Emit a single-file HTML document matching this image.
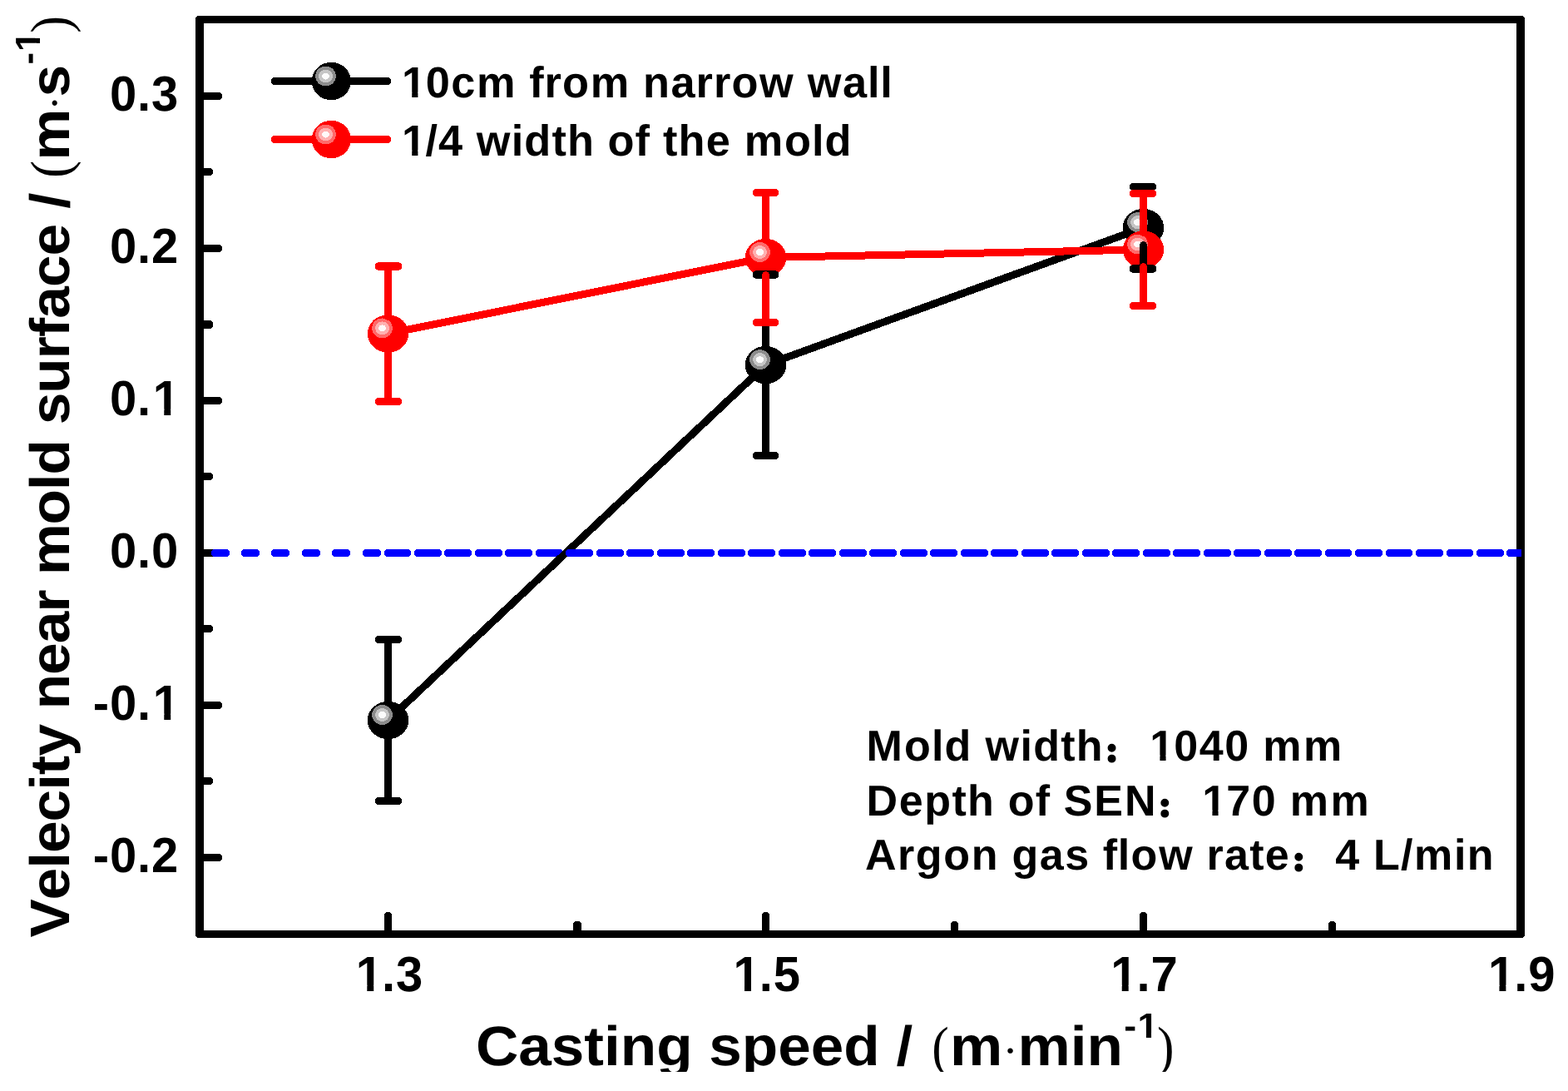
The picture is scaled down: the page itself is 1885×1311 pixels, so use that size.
<!DOCTYPE html>
<html lang="en"><head><meta charset="utf-8"><title>Velocity near mold surface vs casting speed</title>
<style>
html,body{margin:0;padding:0;background:#fff;}
body{width:1885px;height:1311px;overflow:hidden;}
svg{display:block;}
text{font-family:"Liberation Sans", "Noto Sans CJK SC", sans-serif;font-weight:bold;fill:#000;white-space:pre;text-rendering:geometricPrecision;}
.m{fill:#fff;}
.par{font-family:"Liberation Serif","Noto Serif CJK SC",serif;font-weight:normal;}
.col{stroke:#000;stroke-linejoin:round;}
</style></head><body>
<svg width="1885" height="1311" viewBox="0 0 1885 1311">
<rect width="1885" height="1311" fill="#fff"/>
<g id="plot" shape-rendering="crispEdges">
<clipPath id="cpz"><rect x="0" y="650" width="1829" height="30"/></clipPath>
<g id="frame" fill="#000">
<path fill-rule="evenodd" d="M237 19H1831V20H1832V21H1833V1125H1832V1126H1831V1127H237V1126H236V1125H235V21H236V20H237Z M245 28V1118H1823V28Z"/>
<rect x="240" y="111" width="27" height="9" rx="4" ry="4"/>
<rect x="240" y="294" width="27" height="9" rx="4" ry="4"/>
<rect x="240" y="477" width="27" height="9" rx="4" ry="4"/>
<rect x="240" y="660" width="27" height="9" rx="4" ry="4"/>
<rect x="240" y="843" width="27" height="9" rx="4" ry="4"/>
<rect x="240" y="1026" width="27" height="9" rx="4" ry="4"/>
<rect x="240" y="202" width="16" height="9" rx="4" ry="4"/>
<rect x="240" y="385" width="16" height="10" rx="4" ry="4"/>
<rect x="240" y="568" width="16" height="9" rx="4" ry="4"/>
<rect x="240" y="751" width="16" height="9" rx="4" ry="4"/>
<rect x="240" y="934" width="16" height="9" rx="4" ry="4"/>
<rect x="462" y="1096" width="9" height="27" rx="4" ry="4"/>
<rect x="916" y="1096" width="9" height="27" rx="4" ry="4"/>
<rect x="1370" y="1096" width="9" height="27" rx="4" ry="4"/>
<rect x="689" y="1107" width="10" height="16" rx="4" ry="4"/>
<rect x="1143" y="1107" width="9" height="16" rx="4" ry="4"/>
<rect x="1597" y="1107" width="9" height="16" rx="4" ry="4"/>
</g>
<g id="zeroline" fill="#0000ff" clip-path="url(#cpz)">
<path d="M256 660H274V661H275V662H276V667H275V668H274V669H256V668H255V667H254V662H255V661H256Z"/><path d="M292 660H310V661H311V662H312V667H311V668H310V669H292V668H291V667H290V662H291V661H292Z"/><path d="M328 660H346V661H347V662H348V667H347V668H346V669H328V668H327V667H326V662H327V661H328Z"/><path d="M365 660H383V661H384V662H385V667H384V668H383V669H365V668H364V667H363V662H364V661H365Z"/><path d="M401 660H419V661H420V662H421V667H420V668H419V669H401V668H400V667H399V662H400V661H401Z"/><path d="M438 660H456V661H457V662H458V667H457V668H456V669H438V668H437V667H436V662H437V661H438Z"/><path d="M474 660H492V661H493V662H494V667H493V668H492V669H474V668H473V667H472V662H473V661H474Z"/><path d="M511 660H529V661H530V662H531V667H530V668H529V669H511V668H510V667H509V662H510V661H511Z"/><path d="M547 660H565V661H566V662H567V667H566V668H565V669H547V668H546V667H545V662H546V661H547Z"/><path d="M584 660H602V661H603V662H604V667H603V668H602V669H584V668H583V667H582V662H583V661H584Z"/><path d="M620 660H638V661H639V662H640V667H639V668H638V669H620V668H619V667H618V662H619V661H620Z"/><path d="M657 660H675V661H676V662H677V667H676V668H675V669H657V668H656V667H655V662H656V661H657Z"/><path d="M693 660H711V661H712V662H713V667H712V668H711V669H693V668H692V667H691V662H692V661H693Z"/><path d="M730 660H748V661H749V662H750V667H749V668H748V669H730V668H729V667H728V662H729V661H730Z"/><path d="M766 660H784V661H785V662H786V667H785V668H784V669H766V668H765V667H764V662H765V661H766Z"/><path d="M803 660H821V661H822V662H823V667H822V668H821V669H803V668H802V667H801V662H802V661H803Z"/><path d="M839 660H857V661H858V662H859V667H858V668H857V669H839V668H838V667H837V662H838V661H839Z"/><path d="M876 660H894V661H895V662H896V667H895V668H894V669H876V668H875V667H874V662H875V661H876Z"/><path d="M912 660H930V661H931V662H932V667H931V668H930V669H912V668H911V667H910V662H911V661H912Z"/><path d="M949 660H967V661H968V662H969V667H968V668H967V669H949V668H948V667H947V662H948V661H949Z"/><path d="M985 660H1003V661H1004V662H1005V667H1004V668H1003V669H985V668H984V667H983V662H984V661H985Z"/><path d="M1022 660H1040V661H1041V662H1042V667H1041V668H1040V669H1022V668H1021V667H1020V662H1021V661H1022Z"/><path d="M1058 660H1076V661H1077V662H1078V667H1077V668H1076V669H1058V668H1057V667H1056V662H1057V661H1058Z"/><path d="M1095 660H1113V661H1114V662H1115V667H1114V668H1113V669H1095V668H1094V667H1093V662H1094V661H1095Z"/><path d="M1131 660H1149V661H1150V662H1151V667H1150V668H1149V669H1131V668H1130V667H1129V662H1130V661H1131Z"/><path d="M1168 660H1186V661H1187V662H1188V667H1187V668H1186V669H1168V668H1167V667H1166V662H1167V661H1168Z"/><path d="M1204 660H1222V661H1223V662H1224V667H1223V668H1222V669H1204V668H1203V667H1202V662H1203V661H1204Z"/><path d="M1241 660H1259V661H1260V662H1261V667H1260V668H1259V669H1241V668H1240V667H1239V662H1240V661H1241Z"/><path d="M1277 660H1295V661H1296V662H1297V667H1296V668H1295V669H1277V668H1276V667H1275V662H1276V661H1277Z"/><path d="M1314 660H1332V661H1333V662H1334V667H1333V668H1332V669H1314V668H1313V667H1312V662H1313V661H1314Z"/><path d="M1350 660H1368V661H1369V662H1370V667H1369V668H1368V669H1350V668H1349V667H1348V662H1349V661H1350Z"/><path d="M1387 660H1405V661H1406V662H1407V667H1406V668H1405V669H1387V668H1386V667H1385V662H1386V661H1387Z"/><path d="M1423 660H1441V661H1442V662H1443V667H1442V668H1441V669H1423V668H1422V667H1421V662H1422V661H1423Z"/><path d="M1460 660H1478V661H1479V662H1480V667H1479V668H1478V669H1460V668H1459V667H1458V662H1459V661H1460Z"/><path d="M1496 660H1514V661H1515V662H1516V667H1515V668H1514V669H1496V668H1495V667H1494V662H1495V661H1496Z"/><path d="M1533 660H1551V661H1552V662H1553V667H1552V668H1551V669H1533V668H1532V667H1531V662H1532V661H1533Z"/><path d="M1569 660H1587V661H1588V662H1589V667H1588V668H1587V669H1569V668H1568V667H1567V662H1568V661H1569Z"/><path d="M1605 660H1623V661H1624V662H1625V667H1624V668H1623V669H1605V668H1604V667H1603V662H1604V661H1605Z"/><path d="M1642 660H1660V661H1661V662H1662V667H1661V668H1660V669H1642V668H1641V667H1640V662H1641V661H1642Z"/><path d="M1678 660H1696V661H1697V662H1698V667H1697V668H1696V669H1678V668H1677V667H1676V662H1677V661H1678Z"/><path d="M1715 660H1733V661H1734V662H1735V667H1734V668H1733V669H1715V668H1714V667H1713V662H1714V661H1715Z"/><path d="M1751 660H1769V661H1770V662H1771V667H1770V668H1769V669H1751V668H1750V667H1749V662H1750V661H1751Z"/><path d="M1788 660H1806V661H1807V662H1808V667H1807V668H1806V669H1788V668H1787V667H1786V662H1787V661H1788Z"/><path d="M1824 660H1842V661H1843V662H1844V667H1843V668H1842V669H1824V668H1823V667H1822V662H1823V661H1824Z"/>
</g>
<g id="series-black"><polyline points="466.5,865.5 920.5,438.6 1374.5,273.6" fill="none" stroke="#000" stroke-width="9" stroke-linejoin="round" stroke-linecap="round"/><ellipse cx="466.50" cy="865.50" rx="24.70" ry="22.70" fill="#000"/><ellipse cx="459.55" cy="859.00" rx="12.35" ry="11.95" fill="#8c8c8c"/><ellipse cx="459.55" cy="859.00" rx="8.45" ry="8" fill="#c6c6c6"/><ellipse cx="459.55" cy="859.00" rx="4.55" ry="4" fill="#fcfcfc"/><ellipse cx="920.50" cy="438.60" rx="24.70" ry="22.70" fill="#000"/><ellipse cx="913.55" cy="432.10" rx="12.35" ry="11.95" fill="#8c8c8c"/><ellipse cx="913.55" cy="432.10" rx="8.45" ry="8" fill="#c6c6c6"/><ellipse cx="913.55" cy="432.10" rx="4.55" ry="4" fill="#fcfcfc"/><ellipse cx="1374.50" cy="273.60" rx="24.70" ry="22.70" fill="#000"/><ellipse cx="1367.55" cy="267.10" rx="12.35" ry="11.95" fill="#8c8c8c"/><ellipse cx="1367.55" cy="267.10" rx="8.45" ry="8" fill="#c6c6c6"/><ellipse cx="1367.55" cy="267.10" rx="4.55" ry="4" fill="#fcfcfc"/></g>
<g id="series-red"><polyline points="466.5,400.9 920.5,309.5 1374.5,300.0" fill="none" stroke="#ff0000" stroke-width="9" stroke-linejoin="round" stroke-linecap="round"/><ellipse cx="466.50" cy="400.90" rx="24.70" ry="22.70" fill="#ff0000"/><ellipse cx="459.55" cy="394.40" rx="12.35" ry="11.95" fill="#ff6a6a"/><ellipse cx="459.55" cy="394.40" rx="8.45" ry="8" fill="#ffb0b0"/><ellipse cx="459.55" cy="394.40" rx="4.55" ry="4" fill="#fffafa"/><ellipse cx="920.50" cy="309.50" rx="24.70" ry="22.70" fill="#ff0000"/><ellipse cx="913.55" cy="303.00" rx="12.35" ry="11.95" fill="#ff6a6a"/><ellipse cx="913.55" cy="303.00" rx="8.45" ry="8" fill="#ffb0b0"/><ellipse cx="913.55" cy="303.00" rx="4.55" ry="4" fill="#fffafa"/><ellipse cx="1374.50" cy="300.00" rx="24.70" ry="22.70" fill="#ff0000"/><ellipse cx="1367.55" cy="293.50" rx="12.35" ry="11.95" fill="#ff6a6a"/><ellipse cx="1367.55" cy="293.50" rx="8.45" ry="8" fill="#ffb0b0"/><ellipse cx="1367.55" cy="293.50" rx="4.55" ry="4" fill="#fffafa"/></g>
<g id="err-black"><g fill="#000"><path d="M462 768L471 768L471 846L470 846L470 848L468 848L468 849L465 849L465 848L463 848L463 846L462 846Z"/><path d="M462 885L463 885L463 883L465 883L465 882L468 882L468 883L470 883L470 885L471 885L471 962L462 962Z"/><path d="M453 764H481V765H482V766H483V771H482V772H481V773H453V772H452V771H451V766H452V765H453Z"/><path d="M453 958H481V959H482V960H483V965H482V966H481V967H453V966H452V965H451V960H452V959H453Z"/><path d="M916 330L925 330L925 419L924 419L924 421L922 421L922 422L919 422L919 421L917 421L917 419L916 419Z"/><path d="M916 458L917 458L917 456L919 456L919 455L922 455L922 456L924 456L924 458L925 458L925 548L916 548Z"/><path d="M908 325H933V326H935V327H936V333H935V334H933V335H908V334H906V333H905V327H906V326H908Z"/><path d="M907 543H934V544H935V545H936V550H935V551H934V552H907V551H906V550H905V545H906V544H907Z"/><path d="M1370 224L1379 224L1379 254L1378 254L1378 256L1376 256L1376 257L1373 257L1373 256L1371 256L1371 254L1370 254Z"/><path d="M1370 293L1371 293L1371 291L1373 291L1373 290L1376 290L1376 291L1378 291L1378 293L1379 293L1379 323L1370 323Z"/><path d="M1360 220H1388V221H1389V222H1390V227H1389V228H1388V229H1360V228H1359V227H1358V222H1359V221H1360Z"/><path d="M1361 318H1387V319H1389V320H1390V326H1389V327H1387V328H1361V327H1359V326H1358V320H1359V319H1361Z"/></g></g>
<g id="err-red"><g fill="#ff0000"><path d="M462 320L471 320L471 382L470 382L470 384L468 384L468 385L465 385L465 384L463 384L463 382L462 382Z"/><path d="M462 420L463 420L463 418L465 418L465 417L468 417L468 418L470 418L470 420L471 420L471 482L462 482Z"/><path d="M454 315H480V316H482V317H483V323H482V324H480V325H454V324H452V323H451V317H452V316H454Z"/><path d="M453 478H481V479H482V480H483V485H482V486H481V487H453V486H452V485H451V480H452V479H453Z"/><path d="M916 232L925 232L925 290L924 290L924 292L922 292L922 293L919 293L919 292L917 292L917 290L916 290Z"/><path d="M916 329L917 329L917 327L919 327L919 326L922 326L922 327L924 327L924 329L925 329L925 388L916 388Z"/><path d="M907 227H934V228H935V229H936V234H935V235H934V236H907V235H906V234H905V229H906V228H907Z"/><path d="M907 383H934V384H935V385H936V390H935V391H934V392H907V391H906V390H905V385H906V384H907Z"/><path d="M1370 233L1379 233L1379 281L1378 281L1378 283L1376 283L1376 284L1373 284L1373 283L1371 283L1371 281L1370 281Z"/><path d="M1370 319L1371 319L1371 317L1373 317L1373 316L1376 316L1376 317L1378 317L1378 319L1379 319L1379 368L1370 368Z"/><path d="M1360 228H1388V229H1389V230H1390V235H1389V236H1388V237H1360V236H1359V235H1358V230H1359V229H1360Z"/><path d="M1360 363H1388V364H1389V365H1390V370H1389V371H1388V372H1360V371H1359V370H1358V365H1359V364H1360Z"/></g></g>
<g id="zeroline2" fill="#0000ff" clip-path="url(#cpz)">
<path d="M464 660H482V661H483V662H484V667H483V668H482V669H464V668H463V667H462V662H463V661H464Z"/><path d="M500 660H518V661H519V662H520V667H519V668H518V669H500V668H499V667H498V662H499V661H500Z"/><path d="M536 660H554V661H555V662H556V667H555V668H554V669H536V668H535V667H534V662H535V661H536Z"/><path d="M573 660H591V661H592V662H593V667H592V668H591V669H573V668H572V667H571V662H572V661H573Z"/><path d="M609 660H627V661H628V662H629V667H628V668H627V669H609V668H608V667H607V662H608V661H609Z"/><path d="M646 660H664V661H665V662H666V667H665V668H664V669H646V668H645V667H644V662H645V661H646Z"/><path d="M682 660H700V661H701V662H702V667H701V668H700V669H682V668H681V667H680V662H681V661H682Z"/><path d="M719 660H737V661H738V662H739V667H738V668H737V669H719V668H718V667H717V662H718V661H719Z"/><path d="M755 660H773V661H774V662H775V667H774V668H773V669H755V668H754V667H753V662H754V661H755Z"/><path d="M792 660H810V661H811V662H812V667H811V668H810V669H792V668H791V667H790V662H791V661H792Z"/><path d="M828 660H846V661H847V662H848V667H847V668H846V669H828V668H827V667H826V662H827V661H828Z"/><path d="M865 660H883V661H884V662H885V667H884V668H883V669H865V668H864V667H863V662H864V661H865Z"/><path d="M901 660H919V661H920V662H921V667H920V668H919V669H901V668H900V667H899V662H900V661H901Z"/><path d="M938 660H956V661H957V662H958V667H957V668H956V669H938V668H937V667H936V662H937V661H938Z"/><path d="M974 660H992V661H993V662H994V667H993V668H992V669H974V668H973V667H972V662H973V661H974Z"/><path d="M1011 660H1029V661H1030V662H1031V667H1030V668H1029V669H1011V668H1010V667H1009V662H1010V661H1011Z"/><path d="M1047 660H1065V661H1066V662H1067V667H1066V668H1065V669H1047V668H1046V667H1045V662H1046V661H1047Z"/><path d="M1084 660H1102V661H1103V662H1104V667H1103V668H1102V669H1084V668H1083V667H1082V662H1083V661H1084Z"/><path d="M1120 660H1138V661H1139V662H1140V667H1139V668H1138V669H1120V668H1119V667H1118V662H1119V661H1120Z"/><path d="M1157 660H1175V661H1176V662H1177V667H1176V668H1175V669H1157V668H1156V667H1155V662H1156V661H1157Z"/><path d="M1193 660H1211V661H1212V662H1213V667H1212V668H1211V669H1193V668H1192V667H1191V662H1192V661H1193Z"/><path d="M1230 660H1248V661H1249V662H1250V667H1249V668H1248V669H1230V668H1229V667H1228V662H1229V661H1230Z"/><path d="M1266 660H1284V661H1285V662H1286V667H1285V668H1284V669H1266V668H1265V667H1264V662H1265V661H1266Z"/><path d="M1303 660H1321V661H1322V662H1323V667H1322V668H1321V669H1303V668H1302V667H1301V662H1302V661H1303Z"/><path d="M1339 660H1357V661H1358V662H1359V667H1358V668H1357V669H1339V668H1338V667H1337V662H1338V661H1339Z"/><path d="M1376 660H1394V661H1395V662H1396V667H1395V668H1394V669H1376V668H1375V667H1374V662H1375V661H1376Z"/><path d="M1412 660H1430V661H1431V662H1432V667H1431V668H1430V669H1412V668H1411V667H1410V662H1411V661H1412Z"/><path d="M1449 660H1467V661H1468V662H1469V667H1468V668H1467V669H1449V668H1448V667H1447V662H1448V661H1449Z"/><path d="M1485 660H1503V661H1504V662H1505V667H1504V668H1503V669H1485V668H1484V667H1483V662H1484V661H1485Z"/><path d="M1522 660H1540V661H1541V662H1542V667H1541V668H1540V669H1522V668H1521V667H1520V662H1521V661H1522Z"/><path d="M1558 660H1576V661H1577V662H1578V667H1577V668H1576V669H1558V668H1557V667H1556V662H1557V661H1558Z"/><path d="M1595 660H1613V661H1614V662H1615V667H1614V668H1613V669H1595V668H1594V667H1593V662H1594V661H1595Z"/><path d="M1631 660H1649V661H1650V662H1651V667H1650V668H1649V669H1631V668H1630V667H1629V662H1630V661H1631Z"/><path d="M1668 660H1686V661H1687V662H1688V667H1687V668H1686V669H1668V668H1667V667H1666V662H1667V661H1668Z"/><path d="M1704 660H1722V661H1723V662H1724V667H1723V668H1722V669H1704V668H1703V667H1702V662H1703V661H1704Z"/><path d="M1741 660H1759V661H1760V662H1761V667H1760V668H1759V669H1741V668H1740V667H1739V662H1740V661H1741Z"/><path d="M1777 660H1795V661H1796V662H1797V667H1796V668H1795V669H1777V668H1776V667H1775V662H1776V661H1777Z"/><path d="M1813 660H1831V661H1832V662H1833V667H1832V668H1831V669H1813V668H1812V667H1811V662H1812V661H1813Z"/>
</g>
<path d="M328 93H468V94H469V95H470V100H469V101H468V102H328V101H327V100H326V95H327V94H328Z" fill="#000"/>
<ellipse cx="398.35" cy="97.50" rx="23.55" ry="22.75" fill="#000"/><ellipse cx="391.50" cy="91.50" rx="12.35" ry="11.95" fill="#8c8c8c"/><ellipse cx="391.50" cy="91.50" rx="8.45" ry="8" fill="#c6c6c6"/><ellipse cx="391.50" cy="91.50" rx="4.55" ry="4" fill="#fcfcfc"/>
<path d="M328 163H468V164H469V165H470V170H469V171H468V172H328V171H327V170H326V165H327V164H328Z" fill="#ff0000"/>
<ellipse cx="398.35" cy="167.50" rx="23.55" ry="22.75" fill="#ff0000"/><ellipse cx="391.50" cy="161.50" rx="12.35" ry="11.95" fill="#ff6a6a"/><ellipse cx="391.50" cy="161.50" rx="8.45" ry="8" fill="#ffb0b0"/><ellipse cx="391.50" cy="161.50" rx="4.55" ry="4" fill="#fffafa"/>
</g>
<g id="labels">
<g transform="translate(214.80 132.80) scale(0.9750 1)"><text font-size="59.50" x="-84.98 -51.04 -33.66">0.3</text></g>
<g transform="translate(214.80 315.80) scale(0.9750 1)"><text font-size="59.50" x="-84.98 -51.04 -33.66">0.2</text></g>
<g transform="translate(214.80 498.80) scale(0.9750 1)"><text font-size="59.50" x="-84.98 -51.04 -31.87">0.1</text><rect class="m" x="-29.49" y="-7.27" width="11.51" height="8.27"/><rect class="m" x="-9.82" y="-7.27" width="10.71" height="8.27"/></g>
<g transform="translate(214.80 681.80) scale(0.9750 1)"><text font-size="59.50" x="-84.98 -51.04 -33.66">0.0</text></g>
<g transform="translate(214.80 864.80) scale(0.9750 1)"><text font-size="59.50" x="-105.7 -84.98 -51.04 -31.87">-0.1</text><rect class="m" x="-29.49" y="-7.27" width="11.51" height="8.27"/><rect class="m" x="-9.82" y="-7.27" width="10.71" height="8.27"/></g>
<g transform="translate(214.80 1047.80) scale(0.9750 1)"><text font-size="59.50" x="-105.7 -84.98 -51.04 -33.66">-0.2</text></g>
<g transform="translate(467.16 1191.00) scale(0.9750 1)"><text font-size="59.50" x="-40.42 -8.27 9.12">1.3</text><rect class="m" x="-38.04" y="-7.27" width="11.51" height="8.27"/><rect class="m" x="-18.37" y="-7.27" width="10.71" height="8.27"/></g>
<g transform="translate(920.87 1191.00) scale(0.9750 1)"><text font-size="59.50" x="-40.42 -8.27 9.12">1.5</text><rect class="m" x="-38.04" y="-7.27" width="11.51" height="8.27"/><rect class="m" x="-18.37" y="-7.27" width="10.71" height="8.27"/></g>
<g transform="translate(1374.59 1191.00) scale(0.9750 1)"><text font-size="59.50" x="-40.42 -8.27 9.12">1.7</text><rect class="m" x="-38.04" y="-7.27" width="11.51" height="8.27"/><rect class="m" x="-18.37" y="-7.27" width="10.71" height="8.27"/></g>
<g transform="translate(1828.30 1191.00) scale(0.9750 1)"><text font-size="59.50" x="-40.42 -8.27 9.12">1.9</text><rect class="m" x="-38.04" y="-7.27" width="11.51" height="8.27"/><rect class="m" x="-18.37" y="-7.27" width="10.71" height="8.27"/></g>
<g transform="translate(480.80 117.30)"><text font-size="52.30" x="2.22 31.05 61.44 92.23 140.1 155.35 173.61 195.14 228.85 276.73 292.3 325.62 355.82 377.08 398.61 432.19 474.11 489.88 532.13 562.2 577.38">10cm from narrow wall</text><rect class="m" x="4.31" y="-6.54" width="10.11" height="7.54"/><rect class="m" x="21.60" y="-6.54" width="9.41" height="7.54"/></g>
<g transform="translate(480.80 186.90)"><text font-size="52.30" x="2.22 30.72 46.23 76.3 92.07 133.99 149.56 182.62 201.15 234.14 249.71 282.77 300.9 316.15 334.68 367.99 398.06 413.96 462.23 495.22 510.79">1/4 width of the mold</text><rect class="m" x="4.31" y="-6.54" width="10.11" height="7.54"/><rect class="m" x="21.60" y="-6.54" width="9.41" height="7.54"/></g>
<g transform="translate(1040.40 914.00)"><text font-size="52.00"><tspan x="1.17 46.5 79.51 95.2 128.21 144.14 186.06 201.75 234.84 253.48">Mold width</tspan><tspan x="289.43" font-size="27.20" class="col" stroke-width="4.80">：</tspan><tspan x="341.88 370.8 401.28 431.76 461.84 477.92 526.65">1040 mm</tspan></text><rect class="m" x="343.96" y="-6.51" width="10.06" height="7.51"/><rect class="m" x="361.16" y="-6.51" width="9.36" height="7.51"/></g>
<g transform="translate(1040.40 980.00)"><text font-size="52.00"><tspan x="1.01 40.35 70.91 103.99 122.63 155.64 171.33 204.41 222.59 238.36 274.91 311.54">Depth of SEN</tspan><tspan x="353.23" font-size="27.20" class="col" stroke-width="4.80">：</tspan><tspan x="404.88 433.8 464.28 494.37 510.45 559.17">170 mm</tspan></text><rect class="m" x="406.96" y="-6.51" width="10.06" height="7.51"/><rect class="m" x="424.16" y="-6.51" width="9.36" height="7.51"/></g>
<g transform="translate(1039.00 1044.60)"><text font-size="52.00"><tspan x="1.01 40.12 61.76 95.23 128.7 161.71 177.4 210.8 241.28 271.37 286.67 304.84 320.53 354.24 396.16 411.54 433.1 463.27 481.83">Argon gas flow rate</tspan><tspan x="515.43" font-size="27.20" class="col" stroke-width="4.80">：</tspan><tspan x="566.21 596.3 611.99 645 661.08 708.95 724.64">4 L/min</tspan></text></g>
<clipPath id="cpx"><rect x="0" y="1200" width="1885" height="88"/></clipPath>
<g clip-path="url(#cpx)">
<g transform="translate(572.00 1279.80) scale(1.0640 1)"><text font-size="66.80"><tspan x="-0 48.24 85.38 122.53 144.78 163.33 204.13 244.94 263.49 300.64 341.44 378.59 415.74 456.54 475.1 493.66">Casting speed / </tspan><tspan x="515.22" class="par" textLength="19.24" lengthAdjust="spacingAndGlyphs">(</tspan><tspan x="535.73">m</tspan><tspan x="595.13" font-size="52.30" class="par">·</tspan><tspan x="612.33 671.72 690.28">min</tspan><tspan x="732.38 747.63" dy="-33.10" font-size="42.00">-1</tspan><tspan x="769.66" dy="33.10" class="par" textLength="19.24" lengthAdjust="spacingAndGlyphs">)</tspan></text><rect class="m" x="749.31" y="-38.59" width="8.12" height="6.49"/><rect class="m" x="763.19" y="-38.59" width="7.56" height="6.49"/></g>
</g>
<g transform="translate(83.00 1126.00) rotate(-90) scale(1.0400 1)"><text font-size="66.80"><tspan x="-0.6 42.85 79.25 97.06 133.21 169.61 187.62 209.07 245.47 263.23 302.98 339.13 375.43 400.83 418.34 476.38 516.39 534.15 574.15 591.96 628.06 667.96 693.31 714.75 750.9 787.05 823.45 841.51 859.57">Velecity near mold surface / </tspan><tspan x="877.17" class="par" textLength="20.02" lengthAdjust="spacingAndGlyphs">(</tspan><tspan x="897.71">m</tspan><tspan x="954.96" font-size="52.30" class="par">·</tspan><tspan x="970.63">s</tspan><tspan x="1008.26 1023.01" dy="-35.00" font-size="42.00">-1</tspan><tspan x="1044.41" dy="35.00" class="par" textLength="20.02" lengthAdjust="spacingAndGlyphs">)</tspan></text><rect class="m" x="1024.69" y="-40.49" width="8.12" height="6.49"/><rect class="m" x="1038.57" y="-40.49" width="7.56" height="6.49"/></g>
</g>
</svg>
</body></html>
